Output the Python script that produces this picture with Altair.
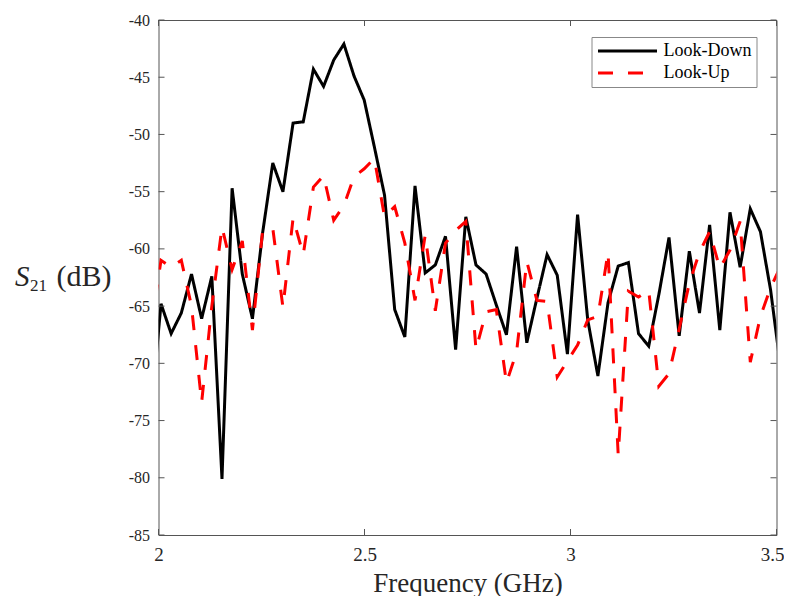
import altair as alt
import pandas as pd

# ---------------- data ----------------
freq = [1.9814,
        2.0061, 2.0307, 2.0554, 2.0801, 2.1047, 2.1294, 2.1541, 2.1787, 2.2034, 2.2280,
        2.2527, 2.2774, 2.3020, 2.3267, 2.3513, 2.3760, 2.4007, 2.4253, 2.4500, 2.4746,
        2.4993, 2.5240, 2.5486, 2.5733, 2.5979, 2.6226, 2.6473, 2.6719, 2.6966, 2.7212,
        2.7459, 2.7706, 2.7952, 2.8199, 2.8445, 2.8692, 2.8939, 2.9185, 2.9432, 2.9678,
        2.9925, 3.0172, 3.0418, 3.0665, 3.0911, 3.1158, 3.1405, 3.1651, 3.1898, 3.2144,
        3.2391, 3.2638, 3.2884, 3.3131, 3.3377, 3.3624, 3.3871, 3.4117, 3.4364, 3.4610,
        3.4857, 3.5104]

look_down = [-74.5,
             -64.8, -67.4, -65.6, -62.2, -66.1, -62.4, -80.1, -54.7, -62.2, -66.1,
             -58.6, -52.5, -55.0, -49.0, -48.9, -44.3, -45.8, -43.5, -42.1, -44.9,
             -47.0, -51.1, -55.3, -65.3, -67.7, -54.5, -62.1, -61.4, -58.9, -68.8,
             -57.2, -61.4, -62.2, -64.9, -67.5, -59.8, -68.2, -64.3, -60.5, -62.3,
             -69.2, -57.0, -66.2, -71.1, -64.7, -61.5, -61.2, -67.4, -68.5, -64.0,
             -59.0, -67.6, -60.2, -65.6, -57.9, -67.1, -56.8, -61.6, -56.5, -58.5,
             -63.6, -70.5]

look_up = [-67.0,
           -61.0, -61.6, -61.0, -65.0, -73.4, -65.0, -58.1, -61.8, -59.3, -67.1,
           -58.4, -58.2, -65.1, -57.3, -60.5, -54.6, -53.6, -57.5, -56.2, -53.7,
           -53.0, -52.1, -57.2, -56.3, -59.5, -64.5, -58.8, -65.4, -59.5, -58.4,
           -57.6, -68.8, -65.5, -65.3, -71.7, -69.0, -61.1, -64.5, -64.6, -71.2,
           -69.8, -68.4, -66.2, -65.9, -60.3, -78.0, -63.7, -64.2, -63.6, -72.0,
           -70.9, -67.0, -63.0, -60.3, -58.5, -61.7, -60.1, -57.6, -69.9, -65.9,
           -63.4, -61.5]

series_names = ["Look-Down", "Look-Up"]
series_colors = ["#000000", "#ff0000"]
x_ticks = [2, 2.5, 3, 3.5]
y_ticks = [-85, -80, -75, -70, -65, -60, -55, -50, -45, -40]

# ---------------- layout ----------------
W, H = 618, 515
FONT = "Liberation Serif"
FRAME = "#555555"
TXT = "#262626"
TICK = 6

rows = []
for f, d, u in zip(freq, look_down, look_up):
    rows.append({"f": f, "s21": d, "series": series_names[0]})
    rows.append({"f": f, "s21": u, "series": series_names[1]})
df = pd.DataFrame(rows)

x_scale = alt.Scale(domain=[2, 3.5], nice=False, zero=False)
y_scale = alt.Scale(domain=[-85, -40], nice=False, zero=False)

x_axis = alt.Axis(values=x_ticks, labelExpr="toString(datum.value)",
                  labelFontSize=19, labelPadding=10,
                  labelOffset={"condition": {"test": "datum.value == 3.5", "value": -4.5},
                               "value": 0},
                  titleFontSize=27, titlePadding=6)
y_axis = alt.Axis(values=y_ticks, labelExpr="toString(datum.value)",
                  labelFontSize=16, labelPadding=9)
x_enc = alt.X("f:Q", scale=x_scale, title="Frequency (GHz)", axis=x_axis)
y_enc = alt.Y("s21:Q", scale=y_scale, title=None, axis=y_axis)

legend = alt.Legend(orient="none", legendX=433, legendY=17, title=None,
                    symbolType="stroke", symbolSize=3481, symbolStrokeWidth=3,
                    clipHeight=18, rowPadding=4, padding=5,
                    strokeColor="#888888", fillColor="white",
                    labelFont=FONT, labelFontSize=18, labelColor="black",
                    labelOffset=5,
                    labelExpr="datum.label + '\u00a0\u00a0\u00a0'")

color_enc = alt.Color("series:N", scale=alt.Scale(domain=series_names, range=series_colors),
                      legend=legend)
dash_enc = alt.StrokeDash("series:N",
                          scale=alt.Scale(domain=series_names, range=[[1, 0], [15, 15]]),
                          legend=legend)

base = alt.Chart(df)
line_down = base.transform_filter(alt.datum.series == series_names[0]).mark_line(
    strokeWidth=3, clip=True).encode(x=x_enc, y=y_enc, color=color_enc, strokeDash=dash_enc)
line_up = base.transform_filter(alt.datum.series == series_names[1]).mark_line(
    strokeWidth=3, clip=True).encode(x=x_enc, y=y_enc, color=color_enc, strokeDash=dash_enc)

xt = alt.Chart(pd.DataFrame({"f": x_ticks}))
yt = alt.Chart(pd.DataFrame({"s21": y_ticks}))
xsame = alt.X("f:Q", scale=x_scale, title="Frequency (GHz)", axis=x_axis)
ysame = alt.Y("s21:Q", scale=y_scale, title=None, axis=y_axis)
tick_bottom = xt.mark_rule(color=FRAME, strokeWidth=1).encode(
    x=xsame, y=alt.value(H), y2=alt.value(H - TICK))
tick_top = xt.mark_rule(color=FRAME, strokeWidth=1).encode(
    x=xsame, y=alt.value(0), y2=alt.value(TICK))
tick_left = yt.mark_rule(color=FRAME, strokeWidth=1).encode(
    y=ysame, x=alt.value(0), x2=alt.value(TICK))
tick_right = yt.mark_rule(color=FRAME, strokeWidth=1).encode(
    y=ysame, x=alt.value(W), x2=alt.value(W - TICK))


def label_text(txt, x, y, size, style="normal"):
    return alt.Chart(pd.DataFrame({"t": [txt]})).mark_text(
        align="left", baseline="alphabetic", font=FONT, fontSize=size,
        fontStyle=style, color=TXT).encode(
        x=alt.value(x), y=alt.value(y), text="t:N")


t_s = label_text("S", -143.5, 266, 29, "italic")
t_sub = label_text("21", -128.5, 271, 17)
t_db = label_text("(dB)", -102, 266, 30)

chart = alt.layer(
    line_down, line_up,
    tick_bottom, tick_top, tick_left, tick_right,
    t_s, t_sub, t_db
).properties(
    width=W, height=H,
    autosize=alt.AutoSizeParams(type="none"),
    padding={"left": 150.5, "top": 12, "right": 7.5, "bottom": 61},
).configure_view(
    stroke=FRAME, strokeWidth=1
).configure_axis(
    domain=False, ticks=False, tickSize=0, grid=False,
    labelFont=FONT, labelColor=TXT, labelFlush=False, labelOverlap=False,
    titleFont=FONT, titleColor=TXT, titleFontWeight="normal"
)

chart.save("out.html", embed_options={"renderer": "svg", "actions": False})
